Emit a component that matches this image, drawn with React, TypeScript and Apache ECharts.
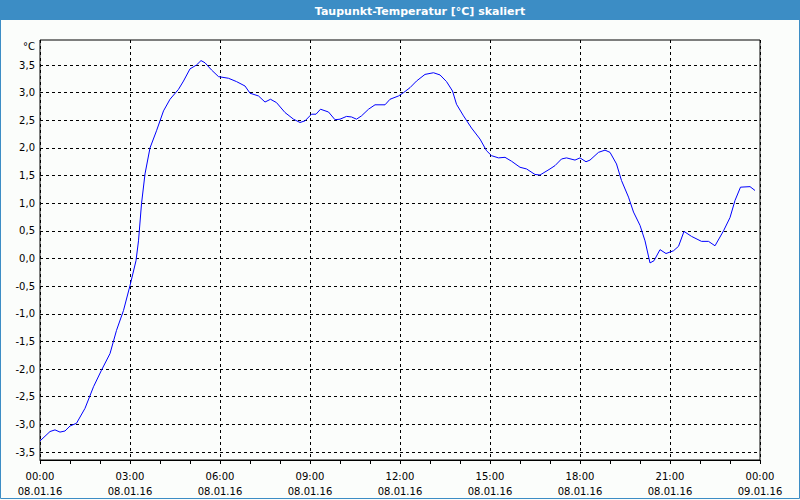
import React, { useEffect, useRef } from "react";
import * as echarts from "echarts";

// Minutes after 08.01.16 00:00
const times: number[] = [
  0, 20, 30, 40, 50, 60, 73, 90, 107, 123, 140, 153, 167, 180, 192, 197, 203, 210, 220, 233,
  247, 260, 277, 287, 300, 313, 322, 330, 343, 357, 377, 393, 410, 420, 437, 450, 461, 473, 490, 507,
  520, 530, 543, 552, 561, 577, 590, 600, 613, 623, 633, 643, 657, 670, 690, 700, 717, 727, 740, 753,
  770, 787, 800, 813, 825, 833, 847, 863, 880, 893, 903, 917, 930, 943, 960, 973, 990, 1000, 1020, 1030,
  1043, 1053, 1070, 1080, 1092, 1100, 1117, 1130, 1140, 1153, 1163, 1177, 1187, 1200, 1210, 1220, 1228, 1240, 1252, 1267,
  1277, 1288, 1303, 1323, 1337, 1350, 1367, 1380, 1390, 1401, 1420, 1430,
];

const dewPoint: number[] = [
  -3.30, -3.13, -3.10, -3.14, -3.12, -3.03, -2.98, -2.71, -2.32, -2.02, -1.72, -1.30, -0.94, -0.49, -0.04, 0.32, 0.99, 1.53, 2.00, 2.31,
  2.67, 2.88, 3.06, 3.21, 3.43, 3.50, 3.58, 3.54, 3.41, 3.29, 3.26, 3.20, 3.12, 2.99, 2.94, 2.83, 2.88, 2.82, 2.64, 2.52,
  2.46, 2.49, 2.61, 2.61, 2.70, 2.65, 2.51, 2.52, 2.57, 2.56, 2.52, 2.58, 2.70, 2.78, 2.78, 2.88, 2.94, 3.00, 3.09, 3.21,
  3.33, 3.36, 3.32, 3.20, 3.03, 2.79, 2.58, 2.36, 2.16, 1.95, 1.86, 1.82, 1.83, 1.76, 1.65, 1.62, 1.52, 1.51, 1.62, 1.68,
  1.80, 1.82, 1.78, 1.82, 1.75, 1.78, 1.92, 1.96, 1.92, 1.71, 1.41, 1.11, 0.84, 0.60, 0.32, -0.08, -0.04, 0.16, 0.09, 0.14,
  0.22, 0.49, 0.40, 0.31, 0.31, 0.23, 0.50, 0.74, 1.05, 1.29, 1.30, 1.23,
];

const dayLabels: string[] = ["08.01.16", "09.01.16"];
const titleText = "Taupunkt-Temperatur [°C] skaliert";
const unitText = "°C";

const BLUE = "#3c8dc5";
const FONT = "DejaVu Sans";

export default function App() {
  const ref = useRef<HTMLDivElement>(null);
  useEffect(() => {
    if (!ref.current) return;
    const chart = echarts.init(ref.current, undefined, { renderer: "svg" });
    const pad = (n: number) => (n < 10 ? "0" + n : "" + n);
    const fmtTime = (v: number) => {
      const h = Math.floor(v / 60) % 24;
      const m = Math.round(v % 60);
      const day = v >= 1440 ? dayLabels[1] : dayLabels[0];
      return pad(h) + ":" + pad(m) + "\n" + day;
    };
    chart.setOption({
      animation: false,
      backgroundColor: "#fbfdfb",
      textStyle: { fontFamily: FONT },
      graphic: [
        { type: "rect", shape: { x: 0, y: 0, width: 800, height: 20 }, style: { fill: BLUE }, z: 0 },
        {
          type: "rect",
          shape: { x: 0.5, y: 0.5, width: 799, height: 498 },
          style: { fill: "none", stroke: BLUE, lineWidth: 1 },
          z: 0,
        },
        {
          type: "text",
          x: 420,
          y: 11,
          style: {
            text: titleText,
            fill: "#ffffff",
            font: `bold 11px ${FONT}`,
            textAlign: "center",
            textVerticalAlign: "middle",
          },
          z: 10,
        },
        {
          type: "text",
          x: 35,
          y: 46,
          style: {
            text: unitText,
            fill: "#000000",
            font: `10px ${FONT}`,
            textAlign: "right",
            textVerticalAlign: "middle",
          },
          z: 10,
        },
      ],
      grid: [
        { left: 40, right: 40, top: 40, bottom: 40, show: true, borderColor: "#000", borderWidth: 1, backgroundColor: "transparent" },
        { left: 40, right: 40, top: 65, bottom: 48 },
      ],
      xAxis: [
        {
          gridIndex: 0,
          type: "value",
          min: 0,
          max: 1440,
          interval: 180,
          axisLine: { show: true, lineStyle: { color: "#000", width: 1 } },
          axisTick: { show: true, length: 4, lineStyle: { color: "#000" } },
          minorTick: { show: true, splitNumber: 3, length: 4, lineStyle: { color: "#000" } },
          splitLine: { show: true, lineStyle: { color: "#000", type: [3, 3], width: 1 } },
          axisLabel: {
            color: "#000",
            fontSize: 10,
            fontFamily: FONT,
            lineHeight: 15,
            margin: 9,
            showMinLabel: true,
            showMaxLabel: true,
            formatter: (v: number) => fmtTime(v),
          },
        },
        { gridIndex: 1, type: "value", min: 0, max: 1440, show: false },
      ],
      yAxis: [
        { gridIndex: 0, type: "value", min: 0, max: 1, show: false },
        {
          gridIndex: 1,
          type: "value",
          min: -3.5,
          max: 3.5,
          interval: 0.5,
          axisLine: { show: false },
          axisTick: { show: false },
          splitLine: { show: true, lineStyle: { color: "#000", type: [3, 3], width: 1 } },
          axisLabel: {
            color: "#000",
            fontSize: 10,
            fontFamily: FONT,
            margin: 5,
            formatter: (v: number) => v.toFixed(1).replace(".", ","),
          },
        },
      ],
      series: [
        {
          type: "line",
          xAxisIndex: 1,
          yAxisIndex: 1,
          data: times.map((t, i) => [t, dewPoint[i]]),
          showSymbol: false,
          clip: false,
          lineStyle: { color: "#0000ff", width: 1 },
          itemStyle: { color: "#0000ff" },
          z: 5,
        },
      ],
    });
    return () => chart.dispose();
  }, []);
  return (
    <div
      ref={ref}
      style={{ position: "absolute", left: 0, top: 0, width: 800, height: 500 }}
    />
  );
}
